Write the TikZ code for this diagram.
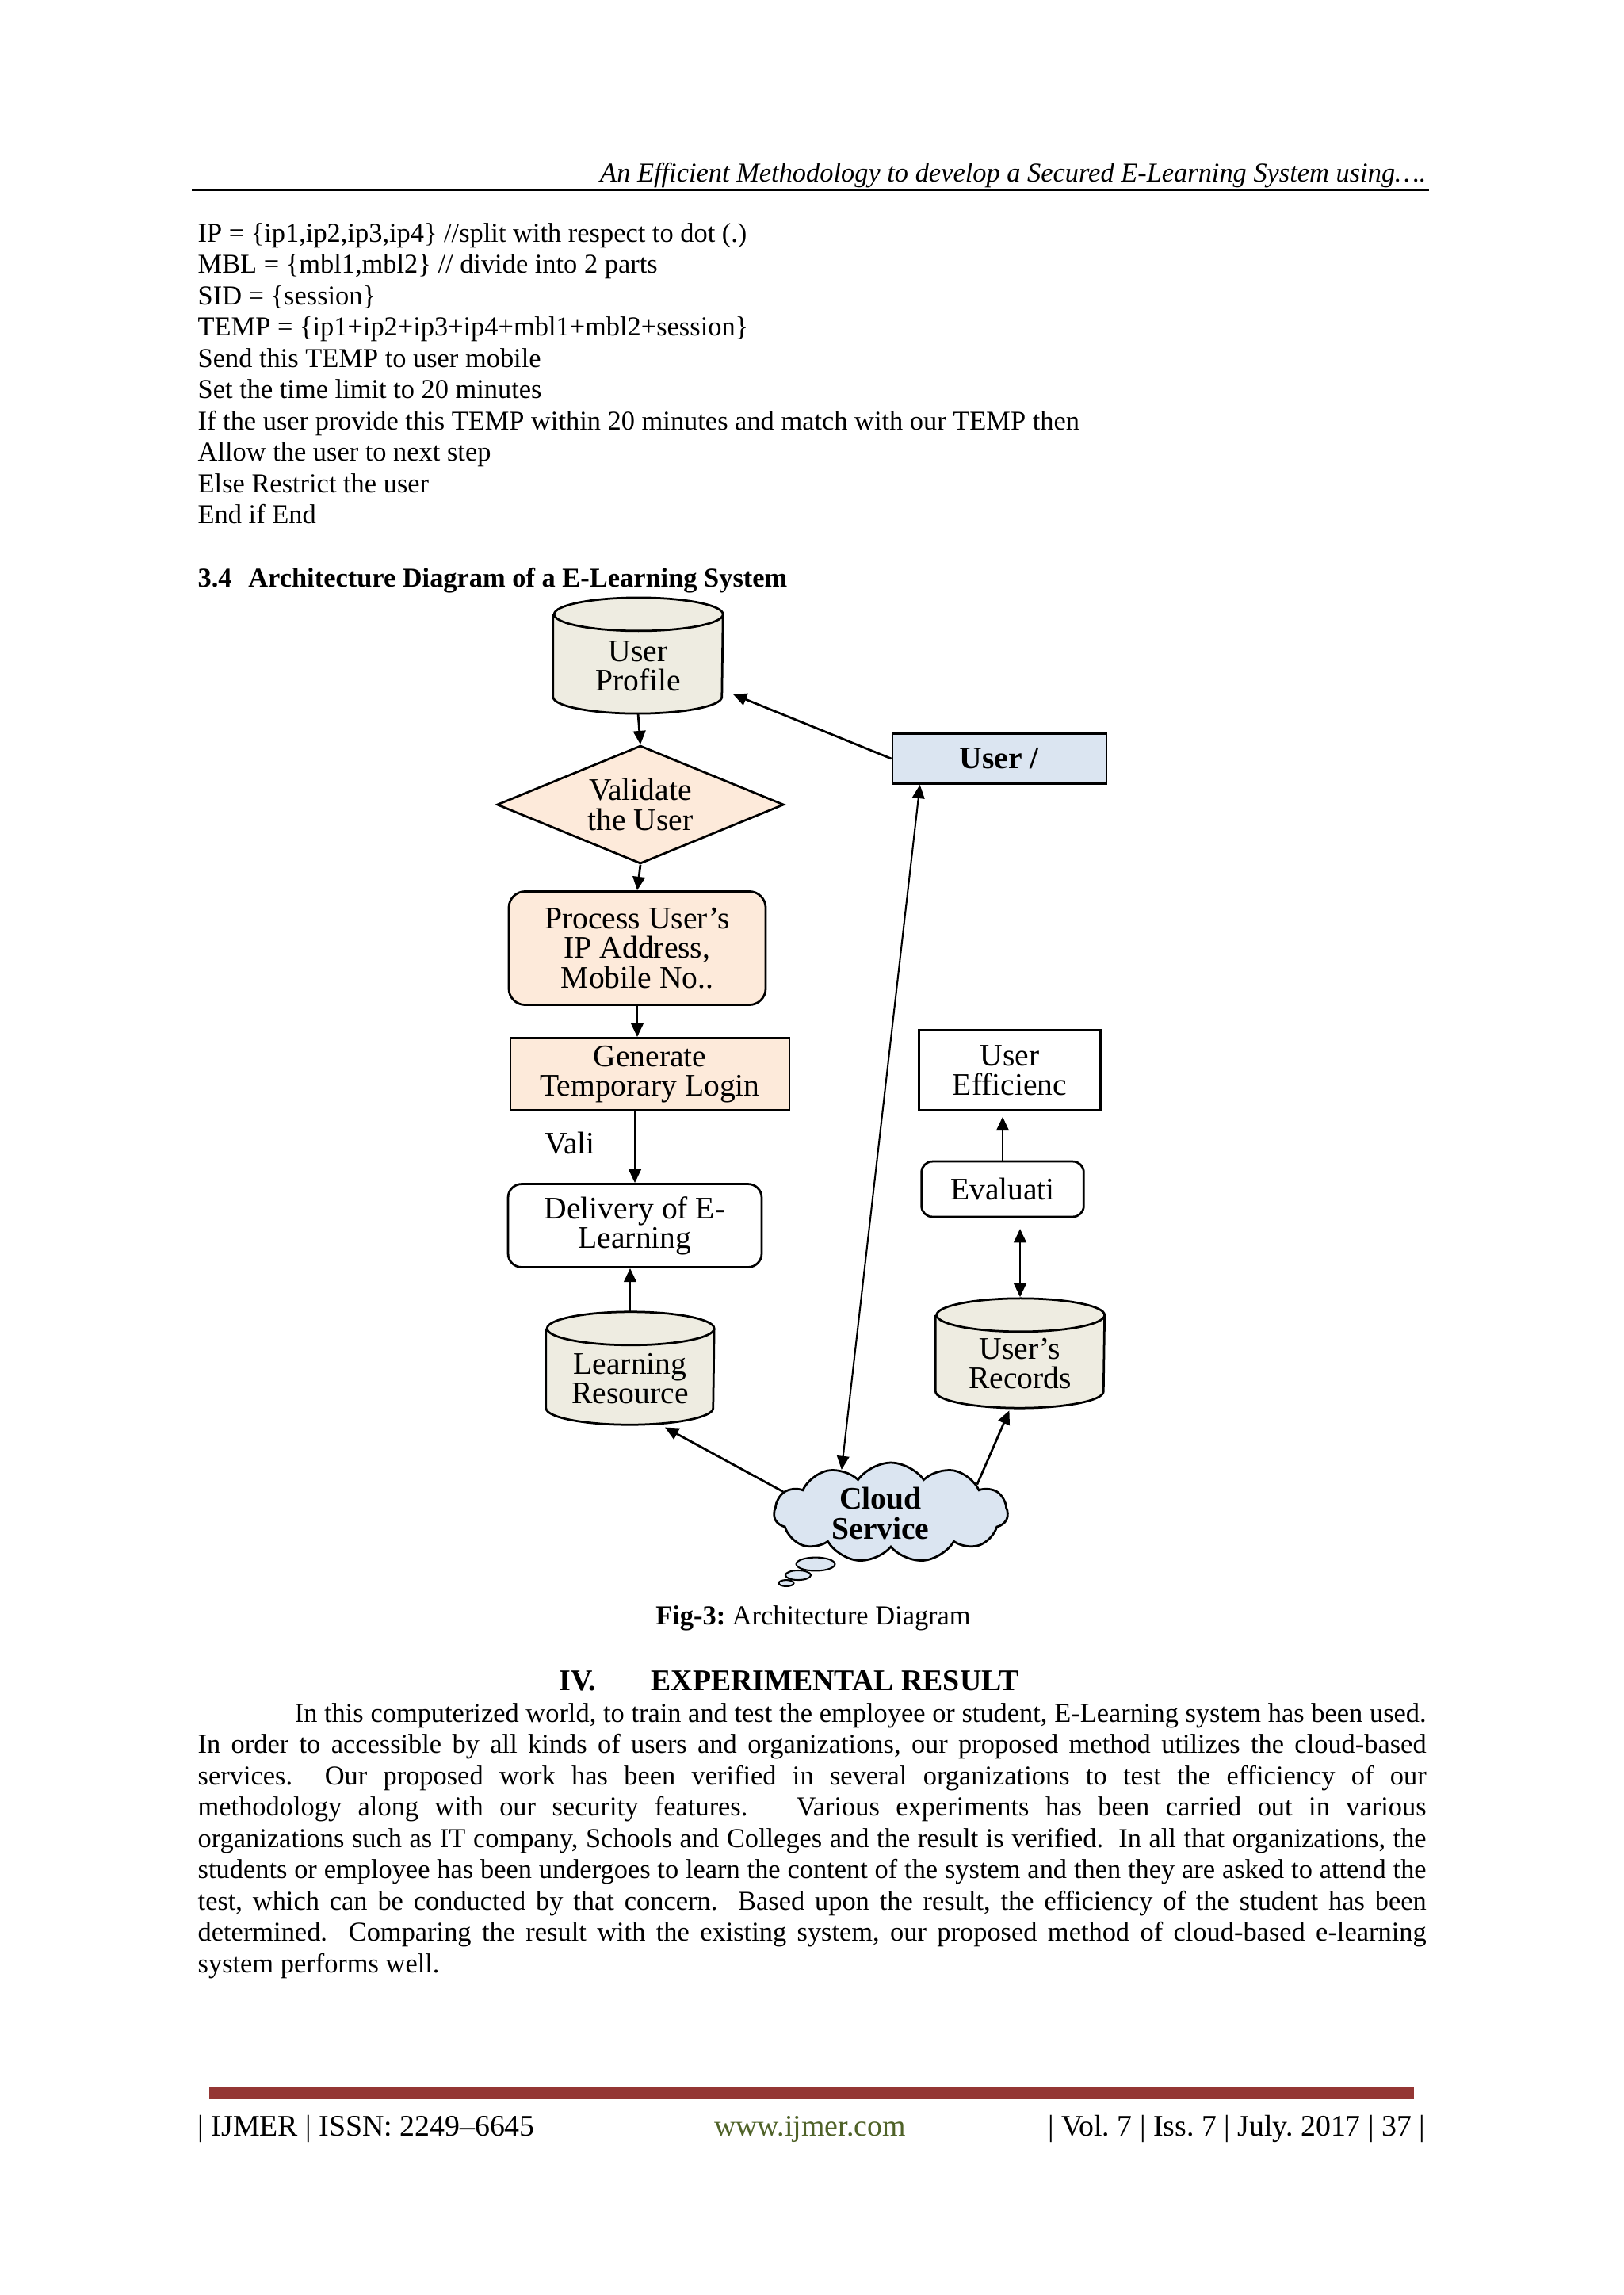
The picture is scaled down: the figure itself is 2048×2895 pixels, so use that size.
\documentclass[tikz,border=0pt]{standalone}
\usepackage{fontspec}
\setmainfont{Liberation Serif}
\usetikzlibrary{shapes.geometric,shapes.symbols,arrows.meta}

\definecolor{dbfill}{HTML}{EEECE1}
\definecolor{peach}{HTML}{FDEADA}
\definecolor{paleblue}{HTML}{DBE5F1}
\definecolor{barred}{HTML}{943634}
\definecolor{olivetext}{HTML}{4F6228}

% database drum round a named node: #1 node name, #2 its width
\newcommand\dbdraw[2]{%
  \filldraw[line width=0.8pt,fill=dbfill]
    ([yshift=-6.1pt]#1.north west) -- ([yshift=6.1pt]#1.south west)
    arc[start angle=180,end angle=360,x radius=#2/2,y radius=6.1pt]
    -- ([yshift=-6.1pt]#1.north east)
    arc[start angle=0,end angle=360,x radius=#2/2,y radius=6.1pt];}

\begin{document}
\frenchspacing
\begin{tikzpicture}[x=0.29066pt,y=-0.29066pt,
  every node/.style={inner sep=0pt,font=\fontsize{10}{11.5}\selectfont},
  diag/.style={font=\fontsize{11.5}{10.8}\selectfont,align=center},
  dbbox/.style={rectangle},
  decision/.style={diag,diamond,aspect=2.43,draw,line width=0.8pt,fill=peach,
    minimum width=105.2pt,minimum height=43.3pt},
  procbox/.style={diag,rectangle,draw,line width=0.8pt,fill=peach},
  whitebox/.style={diag,rectangle,draw,line width=0.8pt,fill=white},
  accbox/.style={diag,rectangle,draw,line width=0.8pt,fill=paleblue,
    minimum width=78.5pt,minimum height=18.3pt},
  cloudshape/.style={cloud,cloud puffs=11,cloud puff arc=110,aspect=2.3,draw,
    line width=0.8pt,fill=paleblue,minimum width=85.7pt,minimum height=36.6pt},
  bubble/.style={ellipse,draw,line width=0.6pt,fill=paleblue},
  link/.style={-{Triangle[length=5pt,width=4.5pt]},line width=0.8pt},
  bothlink/.style={{Triangle[length=5pt,width=4.5pt]}-{Triangle[length=5pt,width=4.5pt]},line width=0.8pt}
]
\fill[white] (0,0) rectangle (2048,2895);
\useasboundingbox (0,0) rectangle (2048,2895);

% running head
\node[anchor=base east,font=\fontsize{10}{11.5}\itshape] (runhead) at (1800,229)
  {An Efficient Methodology to develop a Secured E-Learning System using….};
\draw[line width=0.6pt] (242,240) -- (1803,240);

% pseudo code
\foreach \codetext [count=\i] in {
  {IP = \{ip1,ip2,ip3,ip4\} //split with respect to dot (.)},
  {MBL = \{mbl1,mbl2\} // divide into 2 parts},
  {SID = \{session\}},
  {TEMP = \{ip1+ip2+ip3+ip4+mbl1+mbl2+session\}},
  {Send this TEMP to user mobile},
  {Set the time limit to 20 minutes},
  {If the user provide this TEMP within 20 minutes and match with our TEMP then},
  {Allow the user to next step},
  {Else Restrict the user},
  {End if End}}
  \node[anchor=base west] (code\i) at (249,{305+39.5*(\i-1)}) {\codetext};

\node[anchor=base west,font=\fontsize{10}{11.5}\bfseries] (sechead) at (249,740)
  {3.4\hspace{6pt}Architecture Diagram of a E-Learning System};

% left column
\node[dbbox,minimum width=61.9pt,minimum height=42.1pt] (userprofile) at (805,827) {};
\dbdraw{userprofile}{61.9pt}
\node[diag] (userprofiletext) at (805,840) {User\\Profile};
\node[decision] (validate) at (808,1015) {Validate\\the User};
\node[procbox,rounded corners=6pt,minimum width=94.2pt,minimum height=41.6pt]
  (process) at (804,1196) {Process User’s\\IP Address,\\Mobile No..};
\node[procbox,minimum width=102.3pt,minimum height=26.5pt]
  (generate) at (820,1355) {Generate\\Temporary Login};
\node[diag] (vali) at (719,1442) {Vali};
\node[whitebox,rounded corners=5pt,minimum width=93pt,minimum height=30.5pt]
  (delivery) at (801,1546) {Delivery of E-\\Learning};
\node[dbbox,minimum width=61.3pt,minimum height=41pt] (learnres) at (795,1726) {};
\dbdraw{learnres}{61.3pt}
\node[diag] (learnrestext) at (795,1739) {Learning\\Resource};

% right column
\node[accbox] (useracc) at (1261,957) {\textbf{User /}};
\node[whitebox,minimum width=66.6pt,minimum height=29.4pt]
  (usereff) at (1274,1350) {User\\Efficienc};
\node[whitebox,rounded corners=4pt,minimum width=59.5pt,minimum height=20.3pt]
  (evaluate) at (1265,1500) {Evaluati};
\node[dbbox,minimum width=61.6pt,minimum height=39.8pt] (records) at (1287,1707) {};
\dbdraw{records}{61.6pt}
\node[diag] (recordstext) at (1287,1720) {User’s\\Records};

% cloud
\node[cloudshape] (cloud) at (1124,1908) {};
\node[diag] (cloudtext) at (1111,1909) {\textbf{Cloud}\\\textbf{Service}};
\node[bubble,minimum width=14.2pt,minimum height=4.9pt] (bubble1) at (1029,1973) {};
\node[bubble,minimum width=9.3pt,minimum height=3.5pt] (bubble2) at (1007,1987) {};
\node[bubble,minimum width=5.5pt,minimum height=2.3pt] (bubble3) at (992,1997) {};

% connectors
\draw[link] (userprofile.south) -- (validate.north);
\draw[link] (validate.south) -- (process.north);
\draw[link] (process.south) -- (process.south |- generate.north);
\draw[link] (delivery.north |- generate.south) -- (delivery.north);
\draw[link] (learnres.north) -- (learnres.north |- delivery.south);
\draw[link,shorten >=4pt] (useracc.west) -- (userprofile);
\draw[bothlink,line width=0.6pt] ([xshift=10.5pt]useracc.south west) -- (cloud.139);
\draw[link,shorten >=2pt] (cloud.169) -- (learnres.-62);
\draw[link,shorten >=1pt] (cloud.18) -- (records.-100);
\draw[bothlink,shorten >=4pt,shorten <=0.5pt] (records.north) -- (records.north |- evaluate.south);
\draw[link,shorten >=2pt] (evaluate.north) -- (evaluate.north |- usereff.south);

\node[anchor=base] (caption) at (1026,2049) {\textbf{Fig-3:} Architecture Diagram};

% section IV
\node[anchor=base west,font=\fontsize{11}{13}\bfseries] (secnum) at (705,2132) {IV.};
\node[anchor=base west,font=\fontsize{11}{13}\bfseries] (sectitle) at (821,2132) {EXPERIMENTAL RESULT};
\foreach \bodytext [count=\i] in {
  {\hskip35.5pt In this computerized world, to train and test the employee or student, E-Learning system has been used.},
  {In order to accessible by all kinds of users and organizations, our proposed method utilizes the cloud-based},
  {services.\ \ Our proposed work has been verified in several organizations to test the efficiency of our},
  {methodology along with our security features.\ \ \ Various experiments has been carried out in various},
  {organizations such as IT company, Schools and Colleges and the result is verified.\ \ In all that organizations, the},
  {students or employee has been undergoes to learn the content of the system and then they are asked to attend the},
  {test, which can be conducted by that concern.\ \ Based upon the result, the efficiency of the student has been},
  {determined.\ \ Comparing the result with the existing system, our proposed method of cloud-based e-learning},
  {system performs well.\hfill}}
  \node[anchor=base west] (body\i) at (249,{2172+39.5*(\i-1)}) {\hbox to 450.5pt{\bodytext}};

% footer
\fill[barred] (264,2632) rectangle (1784,2648);
\node[anchor=base west,font=\fontsize{11}{13}\selectfont] (footleft) at (249,2694) {| IJMER | ISSN: 2249–6645};
\node[anchor=base,font=\fontsize{11}{13}\selectfont,text=olivetext] (footweb) at (1022,2694) {www.ijmer.com};
\node[anchor=base east,font=\fontsize{11}{13}\selectfont] (footright) at (1799,2694) {| Vol. 7 | Iss. 7 | July. 2017 | 37 |};
\end{tikzpicture}
\end{document}
